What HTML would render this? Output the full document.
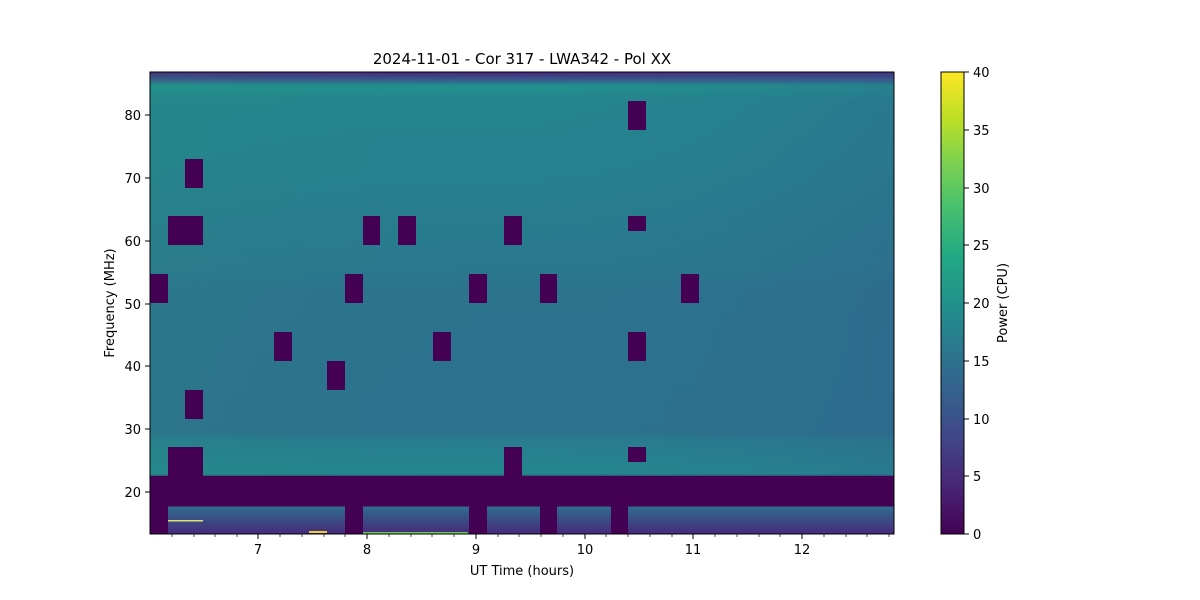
<!DOCTYPE html>
<html><head><style>body{margin:0;background:#fff}svg{display:block}text{font-family:"DejaVu Sans","Liberation Sans",sans-serif;font-size:13px;fill:#000}</style></head><body>
<svg width="1200" height="600" viewBox="0 0 1200 600">
<defs>
<linearGradient id="v" x1="0" y1="72" x2="0" y2="534" gradientUnits="userSpaceOnUse">
<stop offset="0" stop-color="#48257a"/>
<stop offset="0.015" stop-color="#3b528b"/>
<stop offset="0.03" stop-color="#21918c"/>
<stop offset="0.06" stop-color="#25858e"/>
<stop offset="0.2" stop-color="#26818e"/>
<stop offset="0.43" stop-color="#2a788e"/>
<stop offset="0.47" stop-color="#2c738e"/>
<stop offset="0.78" stop-color="#2c718e"/>
<stop offset="0.8" stop-color="#287d8e"/>
<stop offset="0.87" stop-color="#24878e"/>
<stop offset="0.88" stop-color="#440154"/>
<stop offset="0.94" stop-color="#440154"/>
<stop offset="0.941" stop-color="#2f6b8e"/>
<stop offset="1" stop-color="#472a7a"/>
</linearGradient>
<linearGradient id="h" x1="150" y1="0" x2="894" y2="0" gradientUnits="userSpaceOnUse">
<stop offset="0" stop-color="#2a9a70" stop-opacity="0.12"/>
<stop offset="0.5" stop-color="#2a788e" stop-opacity="0"/>
<stop offset="1" stop-color="#33558d" stop-opacity="0.25"/>
</linearGradient>
<linearGradient id="cb" x1="0" y1="534" x2="0" y2="72" gradientUnits="userSpaceOnUse">
<stop offset="0" stop-color="#440154"/><stop offset="0.1" stop-color="#482475"/><stop offset="0.2" stop-color="#414487"/><stop offset="0.3" stop-color="#355f8d"/><stop offset="0.4" stop-color="#2a788e"/><stop offset="0.5" stop-color="#21918c"/><stop offset="0.6" stop-color="#22a884"/><stop offset="0.7" stop-color="#44bf70"/><stop offset="0.8" stop-color="#7ad151"/><stop offset="0.9" stop-color="#bddf26"/><stop offset="1" stop-color="#fde725"/>
</linearGradient>
</defs>
<rect x="150" y="72" width="744" height="462" fill="url(#v)"/>
<rect x="150" y="72" width="744" height="404" fill="url(#h)"/>
<g fill="#440154">
<rect x="150" y="476" width="744" height="29"/>
<rect x="150" y="476" width="18" height="58"/>
<rect x="345" y="476" width="18" height="58"/>
<rect x="469" y="476" width="18" height="58"/>
<rect x="540" y="476" width="17" height="58"/>
<rect x="611" y="476" width="17" height="58"/>
<rect x="150" y="274" width="18" height="29"/>
<rect x="168" y="216" width="35" height="29"/>
<rect x="185" y="159" width="18" height="29"/>
<rect x="185" y="390" width="18" height="29"/>
<rect x="168" y="447" width="35" height="29"/>
<rect x="274" y="332" width="18" height="29"/>
<rect x="327" y="361" width="18" height="29"/>
<rect x="345" y="274" width="18" height="29"/>
<rect x="363" y="216" width="17" height="29"/>
<rect x="398" y="216" width="18" height="29"/>
<rect x="433" y="332" width="18" height="29"/>
<rect x="469" y="274" width="18" height="29"/>
<rect x="504" y="216" width="18" height="29"/>
<rect x="504" y="447" width="18" height="29"/>
<rect x="540" y="274" width="17" height="29"/>
<rect x="628" y="101" width="18" height="29"/>
<rect x="628" y="216" width="18" height="15"/>
<rect x="628" y="332" width="18" height="29"/>
<rect x="628" y="447" width="18" height="15"/>
<rect x="681" y="274" width="18" height="29"/>
</g>
<rect x="168" y="520" width="35" height="1.5" fill="#e0e070"/>
<rect x="309" y="531" width="18" height="2" fill="#f0d030"/>
<rect x="363" y="532" width="105" height="1.5" fill="#6cc860"/>
<rect x="150" y="72" width="744" height="462" fill="none" stroke="#000" stroke-width="1"/>
<g stroke="#000">
<line x1="258" y1="534" x2="258" y2="539"/><line x1="367" y1="534" x2="367" y2="539"/><line x1="476" y1="534" x2="476" y2="539"/><line x1="585" y1="534" x2="585" y2="539"/><line x1="693" y1="534" x2="693" y2="539"/><line x1="802" y1="534" x2="802" y2="539"/>
<line x1="145" y1="115" x2="150" y2="115"/><line x1="145" y1="178" x2="150" y2="178"/><line x1="145" y1="241" x2="150" y2="241"/><line x1="145" y1="304" x2="150" y2="304"/><line x1="145" y1="366" x2="150" y2="366"/><line x1="145" y1="429" x2="150" y2="429"/><line x1="145" y1="492" x2="150" y2="492"/>
</g>
<g stroke="#000" stroke-width="0.7">
<line x1="172" y1="534" x2="172" y2="537"/><line x1="194" y1="534" x2="194" y2="537"/><line x1="215" y1="534" x2="215" y2="537"/><line x1="237" y1="534" x2="237" y2="537"/>
<line x1="280" y1="534" x2="280" y2="537"/><line x1="302" y1="534" x2="302" y2="537"/><line x1="324" y1="534" x2="324" y2="537"/><line x1="345" y1="534" x2="345" y2="537"/>
<line x1="389" y1="534" x2="389" y2="537"/><line x1="411" y1="534" x2="411" y2="537"/><line x1="432" y1="534" x2="432" y2="537"/><line x1="454" y1="534" x2="454" y2="537"/>
<line x1="498" y1="534" x2="498" y2="537"/><line x1="519" y1="534" x2="519" y2="537"/><line x1="541" y1="534" x2="541" y2="537"/><line x1="563" y1="534" x2="563" y2="537"/>
<line x1="606" y1="534" x2="606" y2="537"/><line x1="628" y1="534" x2="628" y2="537"/><line x1="650" y1="534" x2="650" y2="537"/><line x1="672" y1="534" x2="672" y2="537"/>
<line x1="715" y1="534" x2="715" y2="537"/><line x1="737" y1="534" x2="737" y2="537"/><line x1="759" y1="534" x2="759" y2="537"/><line x1="780" y1="534" x2="780" y2="537"/>
<line x1="824" y1="534" x2="824" y2="537"/><line x1="846" y1="534" x2="846" y2="537"/><line x1="867" y1="534" x2="867" y2="537"/><line x1="889" y1="534" x2="889" y2="537"/>
</g>
<g text-anchor="middle">
<text x="258" y="554">7</text><text x="367" y="554">8</text><text x="476" y="554">9</text><text x="585" y="554">10</text><text x="693" y="554">11</text><text x="802" y="554">12</text>
<text x="522" y="575">UT Time (hours)</text>
<text x="522" y="64" style="font-size:15px">2024-11-01 - Cor 317 - LWA342 - Pol XX</text>
</g>
<g text-anchor="end">
<text x="141" y="120">80</text><text x="141" y="183">70</text><text x="141" y="246">60</text><text x="141" y="309">50</text><text x="141" y="371">40</text><text x="141" y="434">30</text><text x="141" y="497">20</text>
</g>
<text transform="translate(114,303) rotate(-90)" text-anchor="middle">Frequency (MHz)</text>
<rect x="941" y="72" width="23" height="462" fill="url(#cb)" stroke="#000" stroke-width="1"/>
<g stroke="#000">
<line x1="964" y1="534" x2="969" y2="534"/><line x1="964" y1="476" x2="969" y2="476"/><line x1="964" y1="419" x2="969" y2="419"/><line x1="964" y1="361" x2="969" y2="361"/><line x1="964" y1="303" x2="969" y2="303"/><line x1="964" y1="245" x2="969" y2="245"/><line x1="964" y1="188" x2="969" y2="188"/><line x1="964" y1="130" x2="969" y2="130"/><line x1="964" y1="72" x2="969" y2="72"/>
</g>
<g>
<text x="973" y="539">0</text><text x="973" y="481">5</text><text x="973" y="424">10</text><text x="973" y="366">15</text><text x="973" y="308">20</text><text x="973" y="250">25</text><text x="973" y="193">30</text><text x="973" y="135">35</text><text x="973" y="77">40</text>
</g>
<text transform="translate(1007,303) rotate(-90)" text-anchor="middle">Power (CPU)</text>
</svg>
</body></html>
